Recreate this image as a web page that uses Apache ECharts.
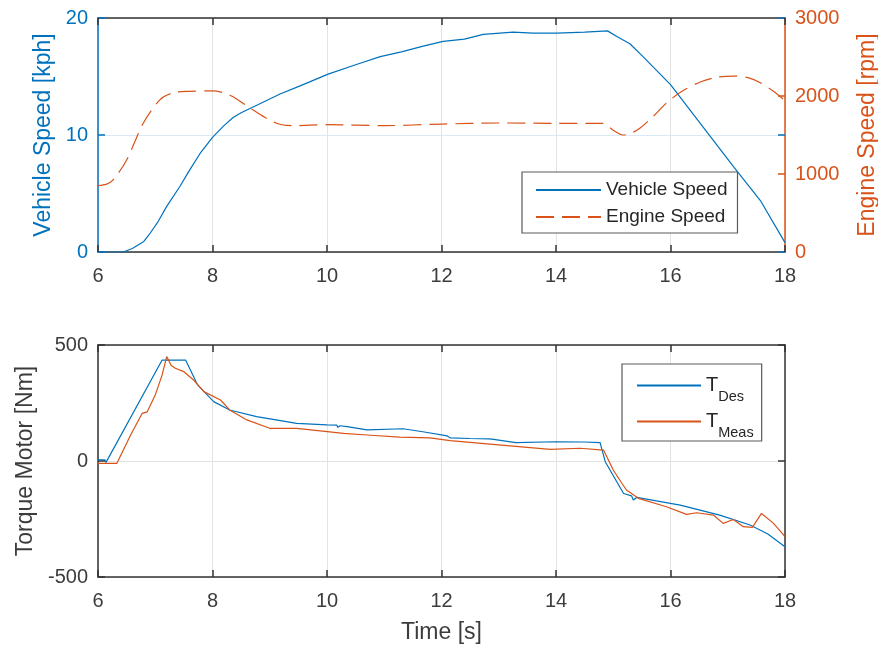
<!DOCTYPE html>
<html>
<head>
<meta charset="utf-8">
<script src="https://cdn.jsdelivr.net/npm/echarts@6/dist/echarts.min.js"></script>
<style>
html,body{margin:0;padding:0;background:#fff;}
#chart{width:878px;height:647px;}
</style>
</head>
<body>
<div id="chart"></div>
<script>
// ---- data ----
const timeVS = [6.0, 6.44, 6.6, 6.8, 6.91, 7.05, 7.2, 7.43, 7.6, 7.78, 8.0, 8.2, 8.36, 8.5, 8.71, 9.18, 9.53, 10.02, 10.5, 10.93, 11.3, 11.68, 12.03, 12.4, 12.73, 13.25, 13.6, 14.02, 14.5, 14.9, 15.07, 15.29, 15.52, 16.0, 16.52, 17.1, 17.57, 18.0];
const vehicleSpeed = [0, 0, 0.3, 0.9, 1.6, 2.6, 3.9, 5.6, 7.0, 8.4, 9.8, 10.8, 11.5, 11.9, 12.4, 13.5, 14.2, 15.2, 16.0, 16.7, 17.1, 17.6, 18.0, 18.2, 18.6, 18.8, 18.7, 18.7, 18.8, 18.9, 18.4, 17.8, 16.7, 14.3, 11.0, 7.3, 4.4, 0.8];

const timeES = [6.0, 6.15, 6.26, 6.5, 6.79, 7.08, 7.31, 7.6, 8.0, 8.2, 8.36, 8.71, 9.12, 9.4, 10.0, 11.0, 12.0, 13.0, 14.0, 14.82, 15.0, 15.17, 15.3, 15.47, 15.7, 15.93, 16.2, 16.52, 16.8, 17.1, 17.35, 17.57, 17.8, 18.0];
const engineSpeed = [850, 870, 920, 1180, 1650, 1950, 2040, 2060, 2065, 2040, 1990, 1820, 1650, 1620, 1632, 1620, 1640, 1654, 1650, 1650, 1560, 1500, 1520, 1590, 1740, 1910, 2060, 2180, 2240, 2256, 2235, 2170, 2060, 1940];

const timeTD = [6.0, 6.12, 6.14, 6.17, 7.12, 7.53, 7.74, 8.02, 8.3, 8.77, 9.24, 9.47, 10.0, 10.17, 10.19, 10.23, 10.35, 10.7, 11.33, 11.7, 12.1, 12.15, 12.5, 12.83, 12.85, 12.88, 13.3, 14.0, 14.45, 14.47, 14.5, 14.77, 14.86, 15.18, 15.32, 15.35, 15.41, 16.17, 16.86, 17.39, 17.7, 18.0];
const torqueDes = [5, 5, -6, -3, 435, 435, 328, 256, 220, 191, 172, 162, 156, 155, 145, 152, 148, 134, 139, 125, 108, 100, 97, 95, 88, 94, 79, 83, 82, 76, 82, 79, -3, -140, -150, -168, -157, -190, -233, -276, -315, -370];

const timeTM = [6.0, 6.33, 6.57, 6.77, 6.86, 7.0, 7.12, 7.2, 7.28, 7.35, 7.5, 7.67, 7.85, 8.14, 8.3, 8.6, 9.0, 9.47, 10.29, 10.7, 11.27, 11.8, 12.15, 12.85, 13.9, 14.42, 14.83, 15.0, 15.15, 15.23, 15.44, 15.93, 16.28, 16.46, 16.75, 16.92, 17.1, 17.27, 17.43, 17.59, 17.8, 18.0];
const torqueMeas = [-10, -10, 112, 205, 212, 284, 371, 450, 412, 400, 385, 349, 299, 263, 220, 177, 141, 141, 119, 112, 103, 100, 88, 73, 50, 55, 47, -39, -96, -125, -161, -197, -230, -223, -233, -269, -252, -283, -286, -226, -269, -326];

const seriesNames = ['Vehicle Speed', 'Engine Speed', 'T_Des', 'T_Meas'];
const axisTitles = {vs: 'Vehicle Speed [kph]', es: 'Engine Speed [rpm]', tq: 'Torque Motor [Nm]', time: 'Time [s]'};

// ---- styling ----
const BLUE = '#0072BD', ORANGE = '#D95319', DARK = '#333333', TXT = '#3c3c3c';
const FONT = 'Liberation Sans, Arial, Helvetica, sans-serif';
const zip = (a, b) => a.map((v, i) => [v, b[i]]);
const plain = v => String(v);

function xAx(grid, pos, labels, name) {
  return {
    type: 'value', gridIndex: grid, position: pos, min: 6, max: 18, interval: 2,
    name: name || '', nameLocation: 'middle', nameGap: 44,
    nameTextStyle: {color: TXT, fontSize: 23, fontFamily: FONT},
    axisLine: {show: true, onZero: false, lineStyle: {color: DARK, width: 1.5}},
    axisTick: {show: true, inside: true, length: 7, lineStyle: {color: DARK, width: 1.5}},
    axisLabel: {show: labels, margin: 14, color: TXT, fontSize: 20, fontFamily: FONT, formatter: plain},
    splitLine: {show: labels, lineStyle: {color: '#e3e3e3', width: 1}}
  };
}
function yAx(grid, pos, min, max, interval, color, opts) {
  return Object.assign({
    type: 'value', gridIndex: grid, position: pos, min: min, max: max, interval: interval,
    nameLocation: 'middle', nameRotate: 90,
    nameTextStyle: {color: color, fontSize: 23, fontFamily: FONT},
    axisLine: {show: true, onZero: false, lineStyle: {color: color, width: 1.5}},
    axisTick: {show: true, inside: true, length: 7, lineStyle: {color: color, width: 1.5}},
    axisLabel: {show: true, margin: 10, color: color, fontSize: 20, fontFamily: FONT, formatter: plain},
    splitLine: {show: false}
  }, opts || {});
}

const option = {
  animation: false,
  backgroundColor: '#fff',
  textStyle: {fontFamily: FONT},
  grid: [
    {left: 98, right: 93, top: 18, height: 234, outerBoundsMode: 'none', containLabel: false},
    {left: 98, right: 93, top: 345, height: 232, outerBoundsMode: 'none', containLabel: false}
  ],
  xAxis: [
    xAx(0, 'bottom', true),
    xAx(0, 'top', false),
    xAx(1, 'bottom', true, axisTitles.time),
    xAx(1, 'top', false)
  ],
  yAxis: [
    yAx(0, 'left', 0, 20, 10, BLUE, {name: axisTitles.vs, nameGap: 37,
      splitLine: {show: true, lineStyle: {color: '#d9eaf5', width: 1}}}),
    yAx(0, 'right', 0, 3000, 1000, ORANGE, {name: axisTitles.es, nameGap: 71}),
    yAx(0, 'right', 0, 20, 10, BLUE, {axisLine: {show: false}, axisLabel: {show: false}}),
    yAx(1, 'left', -500, 500, 500, DARK, {name: axisTitles.tq, nameGap: 58,
      nameTextStyle: {color: TXT, fontSize: 23, fontFamily: FONT},
      axisLabel: {show: true, margin: 10, color: TXT, fontSize: 20, fontFamily: FONT, formatter: plain},
      splitLine: {show: true, lineStyle: {color: '#e3e3e3', width: 1}}}),
    yAx(1, 'right', -500, 500, 500, DARK, {axisLabel: {show: false}})
  ],
  legend: [
    {
      data: [seriesNames[0], seriesNames[1]],
      orient: 'vertical', left: 522, top: 172, selectedMode: false,
      backgroundColor: '#fff', borderColor: '#5a5a5a', borderWidth: 1.2, borderRadius: 0,
      padding: [8, 10, 6, 13], itemGap: 7, itemWidth: 65, itemHeight: 14,
      itemStyle: {color: 'rgba(0,0,0,0)', borderWidth: 0, opacity: 0},
      textStyle: {color: '#262626', fontSize: 19, lineHeight: 20, fontFamily: FONT}
    },
    {
      data: [seriesNames[2], seriesNames[3]],
      orient: 'vertical', left: 622, top: 364, selectedMode: false,
      backgroundColor: '#fff', borderColor: '#5a5a5a', borderWidth: 1.2, borderRadius: 0,
      padding: [3, 8, 1, 14], itemGap: -1, itemWidth: 64, itemHeight: 14,
      itemStyle: {color: 'rgba(0,0,0,0)', borderWidth: 0, opacity: 0},
      formatter: function (n) { return '{t|T}{s|' + n.split('_')[1] + '}'; },
      textStyle: {color: '#262626', fontFamily: FONT,
        rich: {
          t: {fontSize: 20, lineHeight: 20, color: '#262626', fontFamily: FONT},
          s: {fontSize: 14.5, lineHeight: 14, padding: [22, 0, 0, 0], color: '#262626', fontFamily: FONT}
        }
      }
    }
  ],
  series: [
    {name: seriesNames[0], type: 'line', xAxisIndex: 0, yAxisIndex: 0, symbol: 'none',
      data: zip(timeVS, vehicleSpeed), lineStyle: {color: BLUE, width: 1.2}, itemStyle: {color: BLUE}},
    {name: seriesNames[1], type: 'line', xAxisIndex: 0, yAxisIndex: 1, symbol: 'none', smooth: 0.3,
      data: zip(timeES, engineSpeed), lineStyle: {color: ORANGE, width: 1.2, type: [18, 8]}, itemStyle: {color: ORANGE}},
    {name: seriesNames[2], type: 'line', xAxisIndex: 2, yAxisIndex: 3, symbol: 'none',
      data: zip(timeTD, torqueDes), lineStyle: {color: BLUE, width: 1.2}, itemStyle: {color: BLUE}},
    {name: seriesNames[3], type: 'line', xAxisIndex: 2, yAxisIndex: 3, symbol: 'none',
      data: zip(timeTM, torqueMeas), lineStyle: {color: ORANGE, width: 1.2}, itemStyle: {color: ORANGE}}
  ]
};

const chart = echarts.init(document.getElementById('chart'), null, {renderer: 'canvas'});
chart.setOption(option);
</script>
</body>
</html>
